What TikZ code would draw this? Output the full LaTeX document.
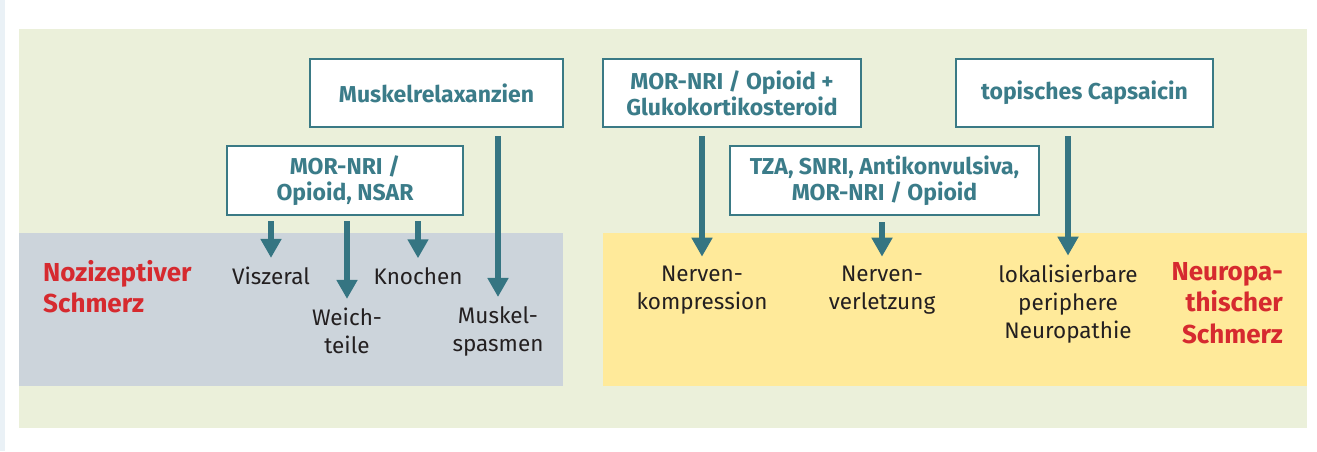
\documentclass[tikz,border=0pt]{standalone}
\usepackage{fontspec}
\setmainfont{Fira Sans}
\usetikzlibrary{arrows.meta}
\definecolor{panel}{HTML}{EBF0DA}
\definecolor{nocband}{HTML}{CCD4DB}
\definecolor{neuband}{HTML}{FFEA9A}
\definecolor{edgetint}{HTML}{EAF1F6}
\definecolor{boxline}{HTML}{3A7A85}
\definecolor{boxtext}{HTML}{3B7C89}
\definecolor{arrowteal}{HTML}{357582}
\definecolor{catred}{HTML}{D62A2F}
\definecolor{ink}{HTML}{231F20}
\begin{document}
\begin{tikzpicture}[x=1pt,y=-1pt,
  drug/.style={draw=boxline, line width=2pt, fill=white, text=boxtext,
    font=\fontsize{23}{26}\selectfont\bfseries, align=center, inner sep=0pt},
  lab/.style={text=ink, font=\fontsize{22.5}{28}\selectfont, align=center, inner sep=0pt},
  cat/.style={text=catred, font=\fontsize{26}{31.5}\selectfont\bfseries, inner sep=0pt},
  arr/.style={draw=arrowteal, line width=6pt, -{Triangle[width=20pt,length=19pt]}}
]
\useasboundingbox (0,0) rectangle (1317,451);
% backgrounds
\fill[white] (0,0) rectangle (1317,451);
\fill[edgetint] (0,0) rectangle (5,451);
\fill[panel] (19,29) rectangle (1307,428);
\fill[nocband] (19,233) rectangle (563,386);
\fill[neuband] (603,233) rectangle (1307,386);

% therapy boxes
\node[drug, minimum width=253pt, minimum height=68pt] (muskel) at (436.5,93) {Muskelrelaxanzien};
\node[drug, minimum width=236pt, minimum height=69pt] (nsar) at (345,180.5) {MOR-NRI /\\ Opioid, NSAR};
\node[drug, minimum width=258pt, minimum height=68pt] (gluko) at (732,93) {MOR-NRI / Opioid +\\ Glukokortikosteroid};
\node[drug, minimum width=309pt, minimum height=69pt] (tza) at (884.5,180.5) {TZA, SNRI, Antikonvulsiva,\\ MOR-NRI / Opioid};
\node[drug, minimum width=257pt, minimum height=68pt] (caps) at (1084.5,93) {topisches Capsaicin};

% pain types
\node[lab] (viz) at (271,276) {Viszeral};
\node[lab] (kno) at (418,276) {Knochen};
\node[lab] (weich) at (347,331) {Weich-\\ teile};
\node[lab] (spasm) at (498,331) {Muskel-\\ spasmen};
\node[lab] (komp) at (702,290) {Nerven-\\ kompression};
\node[lab] (verl) at (882,290) {Nerven-\\ verletzung};
\node[lab] (lok) at (1068,304) {lokalisierbare\\ periphere\\ Neuropathie};

\node[cat, align=left, anchor=west] (noz) at (43,286.5) {Nozizeptiver\\ Schmerz};
\node[cat, align=right, anchor=east] (neuro) at (1283,303) {Neuropa-\\ thischer\\ Schmerz};

% arrows
\draw[arr] ([yshift=-5pt]nsar.south -| viz) -- ([yshift=9pt]viz.north);
\draw[arr] ([yshift=-5pt]nsar.south -| weich) -- ([yshift=9pt]weich.north);
\draw[arr] ([yshift=-5pt]nsar.south -| kno) -- ([yshift=9pt]kno.north);
\draw[arr] ([yshift=-8pt]muskel.south -| spasm) -- ([yshift=9pt]spasm.north);
\draw[arr] ([yshift=-8pt]gluko.south -| komp) -- ([yshift=9pt]komp.north);
\draw[arr] ([yshift=-6pt]tza.south -| verl) -- ([yshift=9pt]verl.north);
\draw[arr] ([yshift=-8pt]caps.south -| lok) -- ([yshift=9pt]lok.north);
\end{tikzpicture}
\end{document}
